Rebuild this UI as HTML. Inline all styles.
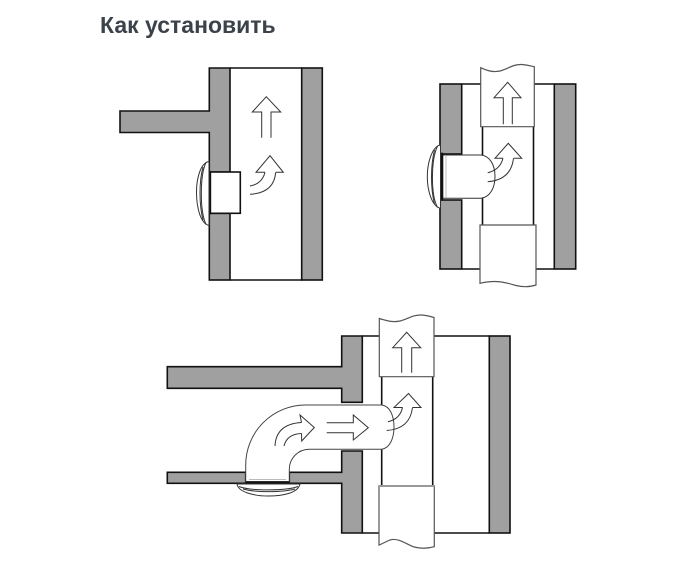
<!DOCTYPE html>
<html><head><meta charset="utf-8"><style>
html,body{margin:0;padding:0;background:#fff;}
svg{display:block;}
</style></head><body>
<svg width="690" height="564" viewBox="0 0 690 564" xmlns="http://www.w3.org/2000/svg">
<rect width="690" height="564" fill="#fff"/>
<text x="100" y="33" font-family="Liberation Sans, Arial, sans-serif" font-weight="bold" font-size="23" fill="#3b4249">Как установить</text>

<!-- ============ Diagram 1 ============ -->
<g stroke="#111" stroke-width="1.6" stroke-linejoin="miter">
  <line x1="230" y1="68" x2="302" y2="68"/>
  <line x1="230" y1="280" x2="302" y2="280"/>
  <polygon points="120,111 209.3,111 209.3,68 230,68 230,172 209.3,172 209.3,132.5 120,132.5" fill="#a0a0a0"/>
  <rect x="209.3" y="213.3" width="20.7" height="66.7" fill="#a0a0a0"/>
  <rect x="301.7" y="68" width="20.6" height="212" fill="#a0a0a0"/>
  <rect x="209.8" y="172" width="30.5" height="41.3" fill="#fff"/>
  <line x1="210" y1="171" x2="210" y2="214.3" stroke-width="2.4"/>
</g>
<!-- grille 1 -->
<g fill="none" stroke="#333" stroke-width="1">
  <path d="M209,161.5 C200,163 196.3,180 196.5,193 C196.7,207 200,223 209,225.5 Z" fill="#fff"/>
  <path d="M206,162.5 C200,175 199.5,210 206,224.5"/>
  <path d="M203,167 C199,182 199,204 203,220"/>
</g>
<!-- arrows 1 -->
<g fill="#fff" stroke="#333" stroke-width="1">
  <path d="M261.7,137.7 L261.7,112 L252.3,112 L266.3,96.7 L280.7,112 L271,112 L271,137.7"/>
  <path d="M250,186 Q262,184 265,172.3" fill="none"/>
  <path d="M250,194.3 Q274,193 275.7,172.3" fill="none"/>
  <path d="M265,172.3 L256,172.3 L270,155.7 L283.3,172.3 L275.7,172.3" fill="#fff"/>
</g>

<!-- ============ Diagram 2 ============ -->
<g stroke="#111" stroke-width="1.6">
  <line x1="461.7" y1="84" x2="554.3" y2="84"/>
  <line x1="461.7" y1="269" x2="554.3" y2="269"/>
  <rect x="440" y="84" width="21.7" height="70" fill="#a0a0a0"/>
  <rect x="440" y="200" width="21.7" height="69" fill="#a0a0a0"/>
  <rect x="554.3" y="84" width="21.4" height="185" fill="#a0a0a0"/>
  <line x1="482.5" y1="126" x2="482.5" y2="225"/>
  <line x1="533.5" y1="126" x2="533.5" y2="225"/>
</g>
<g stroke="#555" stroke-width="1.2" fill="#fff">
  <path d="M480.7,126.7 L480.7,67.7 C488,71 493,72.5 500,71 C508,69 513,64 522,64.5 C528,65 531,66 534.3,66.7 L534.3,126.7 Z"/>
  <path d="M480,225 L536,225 L536,285 C530,287 524,287.5 516,285.5 C506,282.5 496,279.5 480,283.3 Z"/>
</g>
<g fill="#fff" stroke="#333" stroke-width="1">
  <path d="M503.3,124.3 L503.3,97.7 L494,97.7 L507.7,82.3 L521,97.7 L512.3,97.7 L512.3,124.3"/>
</g>
<!-- fan body 2 -->
<path d="M442.7,155 L481,155 C490,156 495,165 495,176.5 C495,188 490,197 481,198.3 L442.7,198.3 Z" fill="#fff" stroke="#333" stroke-width="1"/>
<line x1="442" y1="152.7" x2="442" y2="200.7" stroke="#111" stroke-width="2.4"/>
<line x1="446" y1="156" x2="446" y2="197.5" stroke="#bbb" stroke-width="1"/>
<g fill="none" stroke="#333" stroke-width="1">
  <path d="M440.5,145 C432,146.5 427.2,163 427.3,177 C427.4,191 432,206.5 440.5,208.3 Z" fill="#fff"/>
  <path d="M437.5,146 C431,160 430.5,194 437.5,207.5"/>
  <path d="M434.5,150 C430.5,166 430.5,188 434.5,204"/>
</g>
<g fill="#fff" stroke="#333" stroke-width="1">
  <path d="M487.7,172.7 Q500,170 503,158.3" fill="none"/>
  <path d="M487.7,181.7 Q511,180 513.5,158.3" fill="none"/>
  <path d="M503,158.3 L495,158.3 L508.3,143.3 L521.7,158.3 L513.5,158.3"/>
</g>

<!-- ============ Diagram 3 ============ -->
<g stroke="#111" stroke-width="1.6">
  <line x1="362.3" y1="336" x2="489.3" y2="336"/>
  <line x1="362.3" y1="533" x2="489.3" y2="533"/>
  <polygon points="341.7,336 362.3,336 362.3,402.3 341.7,402.3 341.7,388.3 167.3,388.3 167.3,366.7 341.7,366.7" fill="#a0a0a0"/>
  <polygon points="341.7,451 362.3,451 362.3,533 341.7,533 341.7,483.3 289.3,483.3 289.3,472.3 341.7,472.3" fill="#a0a0a0"/>
  <rect x="167.3" y="472.3" width="78.4" height="11" fill="#a0a0a0"/>
  <rect x="489.3" y="336" width="20.7" height="197" fill="#a0a0a0"/>
  <line x1="381.7" y1="376" x2="381.7" y2="487"/>
  <line x1="432.7" y1="376" x2="432.7" y2="487"/>
</g>
<g stroke="#555" stroke-width="1.2" fill="#fff">
  <path d="M379.3,376.7 L379.3,318.5 C387,321 393,322.5 400,321 C408,319 413,314.5 422,315 C428,315.5 431,316.5 434,317.5 L434,376.7 Z"/>
  <path d="M379,486 L434.3,486 L434.3,546.7 C428,548.5 422,549 414,547 C406,544 398,537.5 390,540 C385,542 382,544 379,545 Z"/>
</g>
<line x1="379" y1="486" x2="434.3" y2="486" stroke="#999" stroke-width="2"/>
<g fill="#fff" stroke="#333" stroke-width="1">
  <path d="M401.7,372.7 L401.7,347.7 L392.7,347.7 L406.7,332.3 L420.7,347.7 L411.7,347.7 L411.7,372.7"/>
</g>
<!-- elbow duct -->
<path d="M245.7,482 L245.7,465 A60,60 0 0 1 305.7,405 L381.7,405 C390,406 394,416 394,427 C394,438 390,448 381.7,449.3 L309.3,449.3 A20,20 0 0 0 289.3,469.3 L289.3,482 Z" fill="#fff" stroke="#444" stroke-width="1"/>
<line x1="245.7" y1="482.3" x2="289.3" y2="482.3" stroke="#111" stroke-width="2.4"/>
<line x1="249" y1="479.5" x2="286" y2="479.5" stroke="#bbb" stroke-width="1"/>
<g fill="none" stroke="#333" stroke-width="1">
  <path d="M237,484 C238,492 254,496 268,496 C283,496 298,493 300,484 Z" fill="#fff"/>
  <path d="M239,486.5 C250,491 286,491 298,486.5"/>
  <path d="M243,489 C255,492.5 282,492.5 295,489"/>
</g>
<!-- arrows in elbow -->
<g fill="#fff" stroke="#333" stroke-width="1">
  <path d="M275,446 Q276,424 301.5,422.5" fill="none"/>
  <path d="M284,446 Q287,434 301.5,433.5" fill="none"/>
  <path d="M301.5,422.5 L300,415 L314.3,427.5 L301.7,441 L301.5,433.5"/>
  <path d="M326.7,422.7 L353.3,422.7 L353.3,415 L368.3,427.7 L353.3,440 L353.3,432.7 L326.7,432.7"/>
  <path d="M388,421.7 Q400,419 402.5,407.5" fill="none"/>
  <path d="M386.7,430.5 Q410,429 412.5,407.5" fill="none"/>
  <path d="M402.5,407.5 L394,407.5 L408.5,393.5 L421,407.5 L412.5,407.5"/>
</g>
</svg>
</body></html>
